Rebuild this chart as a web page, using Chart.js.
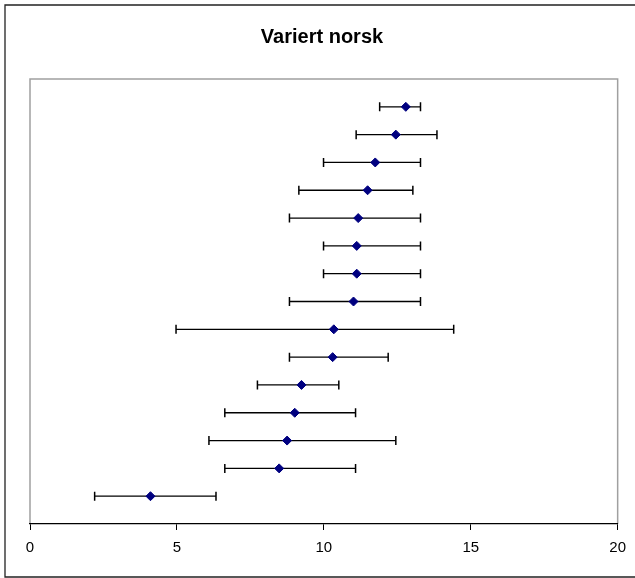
<!DOCTYPE html>
<html lang="no">
<head>
<meta charset="UTF-8">
<title>Variert norsk</title>
<script src="https://cdn.jsdelivr.net/npm/chart.js@4"></script>
<style>
    html, body { margin: 0; padding: 0; background: #ffffff; }
    #wrap { width: 635px; height: 578px; position: relative; }
</style>
</head>
<body>
<div id="wrap"><canvas id="chart" width="635" height="578"></canvas></div>
<script>
// rows from bottom (1) to top (15)
const rows = [1, 2, 3, 4, 5, 6, 7, 8, 9, 10, 11, 12, 13, 14, 15];
const means = [4.1, 8.48, 8.75, 9.01, 9.24, 10.3, 10.34, 11.01, 11.12, 11.12, 11.17, 11.49, 11.75, 12.45, 12.79];
const lows  = [2.2, 6.63, 6.09, 6.63, 7.74, 8.83, 4.97, 8.83, 9.99, 9.99, 8.83, 9.15, 9.99, 11.1, 11.9];
const highs = [6.33, 11.08, 12.45, 11.08, 10.51, 12.19, 14.42, 13.29, 13.29, 13.29, 13.29, 13.03, 13.29, 13.85, 13.29];
const xTicks = [0, 5, 10, 15, 20];
const titleText = 'Variert norsk';

const points = rows.map((r, i) => ({ x: means[i], y: r }));

// horizontal error bars, drawn under the markers
const errorBars = {
    id: 'errorBars',
    beforeDatasetsDraw(chart) {
        const { ctx, scales: { x, y } } = chart;
        ctx.save();
        ctx.strokeStyle = '#000000';
        rows.forEach((r, i) => {
            const py = y.getPixelForValue(r);
            const x1 = x.getPixelForValue(lows[i]);
            const x2 = x.getPixelForValue(highs[i]);
            ctx.lineWidth = 1.3;
            ctx.beginPath();
            ctx.moveTo(x1, py);
            ctx.lineTo(x2, py);
            ctx.stroke();
            ctx.lineWidth = 1.5;
            ctx.beginPath();
            ctx.moveTo(x1, py - 4.5);
            ctx.lineTo(x1, py + 4.5);
            ctx.moveTo(x2, py - 4.5);
            ctx.lineTo(x2, py + 4.5);
            ctx.stroke();
        });
        ctx.restore();
    }
};

// outer frame, plot frame and title
const frame = {
    id: 'frame',
    beforeDraw(chart) {
        const { ctx, chartArea: a } = chart;
        ctx.save();
        ctx.fillStyle = '#ffffff';
        ctx.fillRect(0, 0, chart.width, chart.height);
        ctx.strokeStyle = '#a0a0a0';
        ctx.lineWidth = 1.5;
        ctx.beginPath();
        ctx.moveTo(a.left, a.bottom);
        ctx.lineTo(a.left, a.top);
        ctx.lineTo(a.right, a.top);
        ctx.lineTo(a.right, a.bottom);
        ctx.stroke();
        ctx.restore();
    },
    afterDraw(chart) {
        const { ctx } = chart;
        ctx.save();
        ctx.strokeStyle = '#222222';
        ctx.lineWidth = 1.3;
        ctx.beginPath();
        ctx.moveTo(640, 5);
        ctx.lineTo(5, 5);
        ctx.lineTo(5, 577);
        ctx.lineTo(640, 577);
        ctx.stroke();
        ctx.fillStyle = '#000000';
        ctx.font = 'bold 20px "Liberation Sans", Arial, sans-serif';
        ctx.textAlign = 'center';
        ctx.textBaseline = 'alphabetic';
        ctx.fillText(titleText, 322, 43);
        ctx.restore();
    }
};

new Chart(document.getElementById('chart'), {
    type: 'scatter',
    data: {
        datasets: [{
            data: points,
            pointStyle: 'rectRot',
            pointRadius: 4.5,
            pointHoverRadius: 4.5,
            backgroundColor: '#000080',
            borderColor: '#000080',
            borderWidth: 1
        }]
    },
    options: {
        responsive: false,
        animation: false,
        layout: { padding: { left: 30, right: 17, top: 79, bottom: 0 } },
        plugins: {
            legend: { display: false },
            tooltip: { enabled: false },
            title: { display: false }
        },
        scales: {
            x: {
                type: 'linear',
                min: 0,
                max: 20,
                afterBuildTicks(scale) {
                    scale.ticks = xTicks.map(v => ({ value: v }));
                },
                afterFit(scale) { scale.height = 54; },
                grid: {
                    drawOnChartArea: false,
                    drawTicks: true,
                    tickLength: 6,
                    color: '#000000'
                },
                border: { color: '#000000', width: 1.3 },
                ticks: {
                    color: '#000000',
                    padding: 9,
                    maxRotation: 0,
                    font: { family: '"Liberation Sans", Arial, sans-serif', size: 15 }
                }
            },
            y: {
                type: 'linear',
                min: 0,
                max: 16,
                display: false
            }
        }
    },
    plugins: [frame, errorBars]
});
</script>
</body>
</html>
